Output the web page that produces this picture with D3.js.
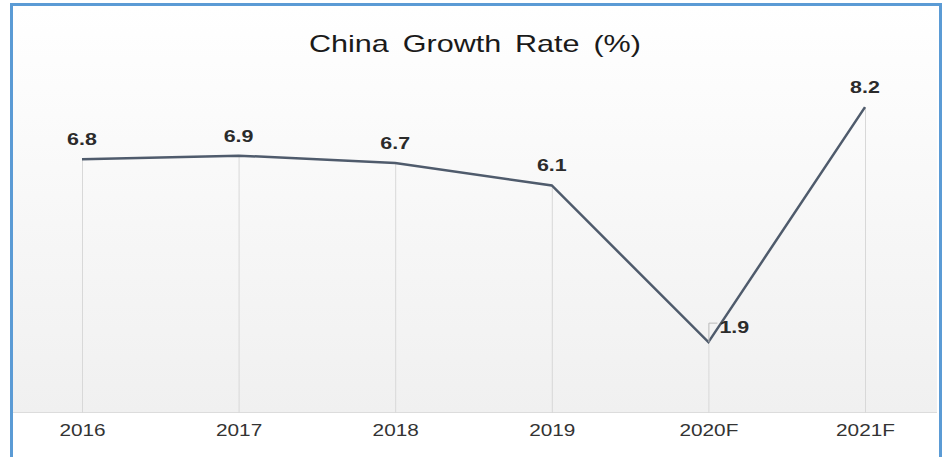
<!DOCTYPE html>
<html>
<head>
<meta charset="utf-8">
<script src="https://cdn.jsdelivr.net/npm/d3@7"></script>
<style>
  body { margin: 0; background: #fff; }
  svg { display: block; font-family: Arial, "Liberation Sans", sans-serif; }
</style>
</head>
<body>
<div id="chart_container"></div>
<script>
const years = ["2016", "2017", "2018", "2019", "2020F", "2021F"]
const growth = [6.8, 6.9, 6.7, 6.1, 1.9, 8.2]
const yDomain = [0, 10]

const w = 949, h = 457
const stretchX = 1.3   // the source picture is a bit wide

// widen a text horizontally around its own anchor x
function stretch(sel, k) {
  sel.each(function () {
    const t = d3.select(this)
    const x = +t.attr("x") || 0
    t.attr("transform", "translate(" + x + ",0) scale(" + k + ",1) translate(" + (-x) + ",0)")
  })
}

const svg = d3.select("#chart_container")
              .append("svg")
              .attr("width", w)
              .attr("height", h)

const defs = svg.append("defs")
const grad = defs.append("linearGradient")
                 .attr("id", "bg")
                 .attr("x1", 0).attr("y1", 0)
                 .attr("x2", 0).attr("y2", 1)
grad.append("stop").attr("offset", "0%").attr("stop-color", "#ffffff")
grad.append("stop").attr("offset", "100%").attr("stop-color", "#f0f0f0")

// frame + plot background
svg.append("rect")
   .attr("x", 13).attr("y", 6)
   .attr("width", 924).attr("height", 406)
   .attr("fill", "url(#bg)")

svg.append("line")
   .attr("x1", 13).attr("x2", 937)
   .attr("y1", 412.5).attr("y2", 412.5)
   .attr("stroke", "#dcdcdc")

svg.append("path")
   .attr("d", "M11.5,470 V4.5 H940.5 V470")
   .attr("fill", "none")
   .attr("stroke", "#5b9bd5")
   .attr("stroke-width", 3)

svg.append("text")
   .attr("x", 475)
   .attr("y", 52)
   .attr("text-anchor", "middle")
   .attr("font-size", 23)
   .attr("word-spacing", 4)
   .attr("fill", "#1a1a1a")
   .text("China Growth Rate (%)")
   .call(stretch, 1.33)

const xScale = d3.scalePoint()
                 .domain(years)
                 .range([82, 865])

const yScale = d3.scaleLinear()
                 .domain(yDomain)
                 .range([413, 40])

const data = years.map((y, i) => ({ year: y, value: growth[i] }))

// drop lines
svg.append("g")
   .selectAll("line")
   .data(data)
   .join("line")
   .attr("x1", d => xScale(d.year) + 0.5)
   .attr("x2", d => xScale(d.year) + 0.5)
   .attr("y1", d => yScale(d.value))
   .attr("y2", yScale(0))
   .attr("stroke", "#d8d8d8")
   .attr("stroke-width", 1)

const xAxis = d3.axisBottom(xScale).tickSize(0).tickPadding(12)
const gx = svg.append("g")
   .attr("transform", "translate(0, " + yScale(0) + ")")
   .call(xAxis)
gx.select(".domain").remove()
gx.selectAll("text")
  .attr("font-size", 16)
  .attr("font-family", "Arial, 'Liberation Sans', sans-serif")
  .attr("fill", "#333")
  .call(stretch, stretchX)

const line = d3.line()
               .x(d => xScale(d.year))
               .y(d => yScale(d.value))

svg.append("path")
   .datum(data)
   .attr("d", line)
   .attr("fill", "none")
   .attr("stroke", "#4f5b6c")
   .attr("stroke-width", 2.5)
   .attr("stroke-linejoin", "miter")

// label connector for the low point
const low = data[4]
svg.append("path")
   .attr("d", "M" + (xScale(low.year) + 0.5) + "," + yScale(low.value) +
              " V" + (yScale(low.value) - 19) + " H" + (xScale(low.year) + 9))
   .attr("fill", "none")
   .attr("stroke", "#bbb")
   .attr("stroke-width", 1)

svg.append("g")
   .selectAll("text")
   .data(data)
   .join("text")
   .attr("x", (d, i) => i === 4 ? xScale(d.year) + 11 : xScale(d.year))
   .attr("y", (d, i) => i === 4 ? yScale(d.value) - 9 : yScale(d.value) - 14)
   .attr("text-anchor", (d, i) => i === 4 ? "start" : "middle")
   .attr("font-size", 16.5)
   .attr("font-weight", "bold")
   .attr("fill", "#2b2b2b")
   .text(d => d3.format(".1f")(d.value))
   .call(stretch, stretchX)
</script>
</body>
</html>
